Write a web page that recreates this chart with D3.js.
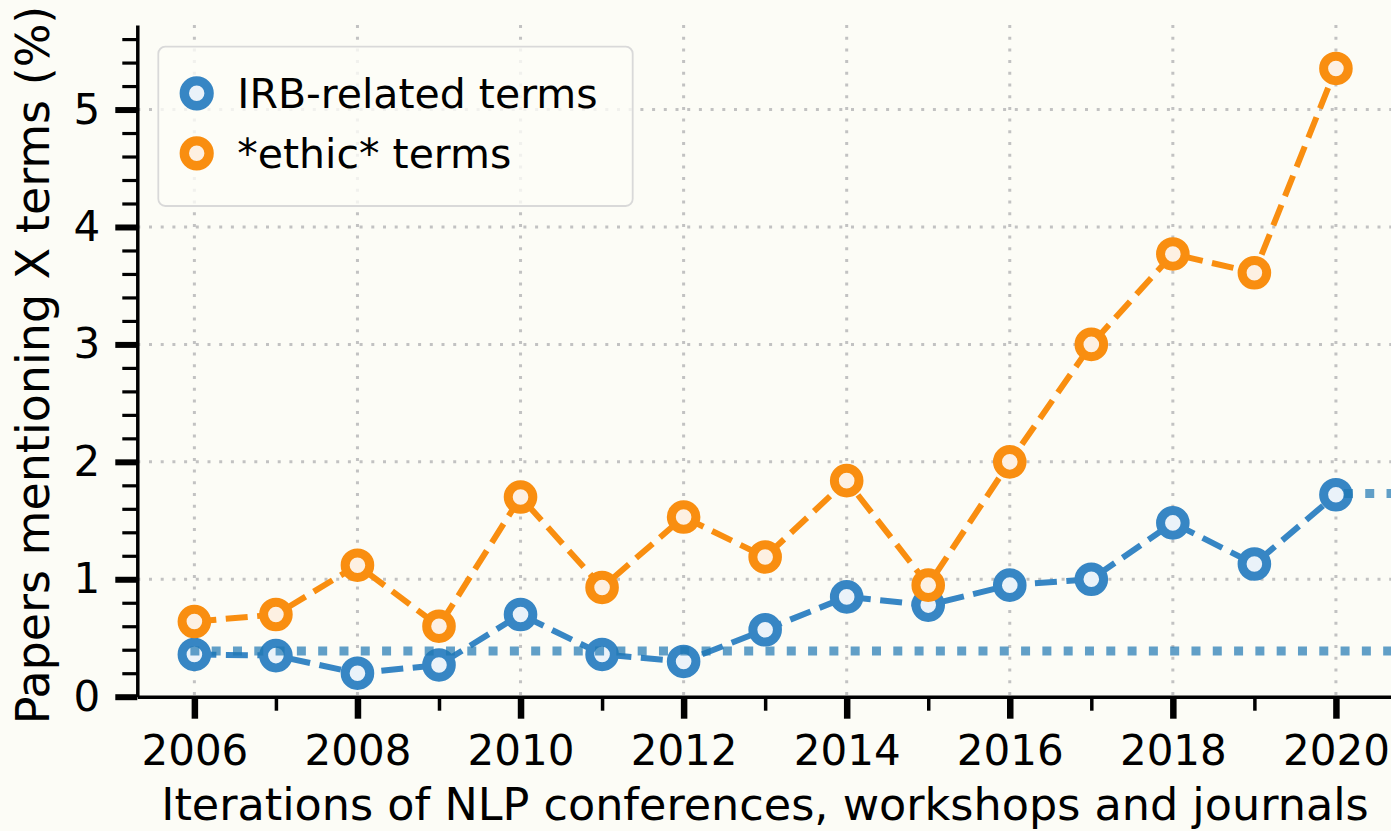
<!DOCTYPE html>
<html>
<head>
<meta charset="utf-8">
<script src="https://cdn.jsdelivr.net/npm/d3@7"></script>
<style>
  body { margin: 0; background: #fcfcf6; }
  svg { display: block; font-family: "DejaVu Sans", sans-serif; }
</style>
</head>
<body>
<div id="chart"></div>
<script>
// values
const years = [2006, 2007, 2008, 2009, 2010, 2011, 2012, 2013, 2014, 2015, 2016, 2017, 2018, 2019, 2020];
const irbTerms = [0.36, 0.35, 0.20, 0.27, 0.70, 0.36, 0.30, 0.57, 0.85, 0.78, 0.95, 1.00, 1.48, 1.13, 1.72];
const ethicTerms = [0.64, 0.70, 1.12, 0.60, 1.70, 0.93, 1.53, 1.19, 1.84, 0.95, 2.00, 3.00, 3.77, 3.61, 5.35];
const irbBaseline = 0.39;   // dotted level from 2006 onward
const irbLevel2020 = 1.73;  // dotted level from 2020 onward
const xTicks = [2006, 2008, 2010, 2012, 2014, 2016, 2018, 2020];
const xMinor = [2007, 2009, 2011, 2013, 2015, 2017, 2019];
const yTicks = [0, 1, 2, 3, 4, 5];
const yMinor = d3.range(0.2, 5.61, 0.2).filter(v => Math.abs(v - Math.round(v)) > 0.01);
const seriesNames = ["IRB-related terms", "*ethic* terms"];

const blue = "#3786c4", orange = "#f98e10";

// set the dimensions and margins of the graph
var margin = {top: 25, right: 0, bottom: 134.3, left: 137.3},
  width = 1391 - margin.left,
  height = 831 - margin.top - margin.bottom;

var svg = d3.select("#chart")
.append("svg")
  .attr("width", 1391)
  .attr("height", 831)
.append("g")
  .attr("transform", "translate(" + margin.left + "," + margin.top + ")");

var x = d3.scaleLinear().domain([2005.3, 2020.7]).range([0, width + 2]);
var y = d3.scaleLinear().domain([0, 5.72]).range([height, 0]);

// grid
const grid = svg.append("g")
  .attr("stroke", "#c2c2c2")
  .attr("stroke-width", 3)
  .attr("stroke-dasharray", "3,8.7");
grid.selectAll("line.v")
  .data(xTicks)
  .enter().append("line")
    .attr("class", "v")
    .attr("x1", d => x(d)).attr("x2", d => x(d))
    .attr("y1", 0).attr("y2", height);
grid.selectAll("line.h")
  .data(yTicks.filter(d => d > 0))
  .enter().append("line")
    .attr("class", "h")
    .attr("x1", 0).attr("x2", width + 2)
    .attr("y1", d => y(d)).attr("y2", d => y(d));

// minor ticks
svg.append("g")
  .attr("transform", "translate(0," + height + ")")
  .call(d3.axisBottom(x).tickValues(xMinor).tickSize(14).tickFormat(""))
  .call(g => g.select(".domain").remove())
  .call(g => g.selectAll(".tick line").attr("stroke", "#000").attr("stroke-width", 3.5));
svg.append("g")
  .call(d3.axisLeft(y).tickValues(yMinor).tickSize(15).tickFormat(""))
  .call(g => g.select(".domain").remove())
  .call(g => g.selectAll(".tick line").attr("stroke", "#000").attr("stroke-width", 3.2));

// major axes
svg.append("g")
  .attr("transform", "translate(0," + height + ")")
  .call(d3.axisBottom(x).tickValues(xTicks).tickSize(22).tickSizeOuter(0).tickPadding(16.5).tickFormat(d3.format("d")))
  .call(g => g.select(".domain").attr("stroke", "#000").attr("stroke-width", 3.5))
  .call(g => g.selectAll(".tick line").attr("stroke", "#000").attr("stroke-width", 6.5))
  .call(g => g.selectAll(".tick text").attr("fill", "#000").attr("font-size", 42).attr("font-family", "DejaVu Sans"));
svg.append("g")
  .call(d3.axisLeft(y).tickValues(yTicks).tickSize(22).tickSizeOuter(0).tickPadding(15).tickFormat(d3.format("d")))
  .call(g => g.select(".domain").attr("stroke", "#000").attr("stroke-width", 3.5))
  .call(g => g.selectAll(".tick line").attr("stroke", "#000").attr("stroke-width", 6))
  .call(g => g.selectAll(".tick text").attr("fill", "#000").attr("font-size", 42).attr("font-family", "DejaVu Sans"));

// axis labels
svg.append("text")
  .attr("x", 765 - margin.left)
  .attr("y", 820 - margin.top)
  .attr("text-anchor", "middle")
  .attr("font-size", 44.5)
  .text("Iterations of NLP conferences, workshops and journals");
svg.append("text")
  .attr("transform", "translate(" + (49 - margin.left) + "," + (365 - margin.top) + ") rotate(-90)")
  .attr("text-anchor", "middle")
  .attr("font-size", 46)
  .text("Papers mentioning X terms (%)");

// series
const series = [
  {name: seriesNames[0], values: irbTerms, color: blue, fill: "#eaf2f9"},
  {name: seriesNames[1], values: ethicTerms, color: orange, fill: "#fdf0e2"}
];
const line = d3.line().x(d => x(d[0])).y(d => y(d[1]));

series.forEach(function(s) {
  const pts = years.map((yr, i) => [yr, s.values[i]]);
  svg.append("path")
    .datum(pts)
    .attr("d", line)
    .attr("fill", "none")
    .attr("stroke", s.color)
    .attr("stroke-width", 6)
    .attr("stroke-dasharray", "22,9.5");
  svg.append("g")
    .selectAll("circle")
    .data(pts)
    .enter().append("circle")
      .attr("cx", d => x(d[0]))
      .attr("cy", d => y(d[1]))
      .attr("r", 12.3)
      .attr("fill", s.fill)
      .attr("stroke", s.color)
      .attr("stroke-width", 9);
});

// dotted reference levels
const dotted = svg.append("g")
  .attr("stroke", "#1f77b4")
  .attr("stroke-opacity", 0.7)
  .attr("stroke-width", 9)
  .attr("stroke-dasharray", "9,12.3");
dotted.append("line")
  .attr("x1", x(2006) - 4).attr("x2", width + 2)
  .attr("y1", y(irbBaseline)).attr("y2", y(irbBaseline));
dotted.append("line")
  .attr("x1", x(2020) + 8).attr("x2", width + 2)
  .attr("y1", y(irbLevel2020)).attr("y2", y(irbLevel2020));

// legend
const legend = svg.append("g")
  .attr("transform", "translate(" + (158.3 - margin.left) + "," + (46.7 - margin.top) + ")");
legend.append("rect")
  .attr("width", 474.4)
  .attr("height", 159.3)
  .attr("rx", 7)
  .attr("fill", "#fdfdf8")
  .attr("fill-opacity", 0.8)
  .attr("stroke", "#d9d9d9")
  .attr("stroke-width", 1.8);
const item = legend.selectAll("g.item")
  .data(series)
  .enter().append("g")
    .attr("class", "item")
    .attr("transform", (d, i) => "translate(0," + (46.6 + i * 60) + ")");
item.append("circle")
  .attr("cx", 38.4)
  .attr("r", 12.4)
  .attr("fill", d => d.fill)
  .attr("stroke", d => d.color)
  .attr("stroke-width", 9.4);
item.append("text")
  .attr("x", 79)
  .attr("y", 14.5)
  .attr("font-size", 41)
  .attr("fill", "#000")
  .text(d => d.name);
</script>
</body>
</html>
